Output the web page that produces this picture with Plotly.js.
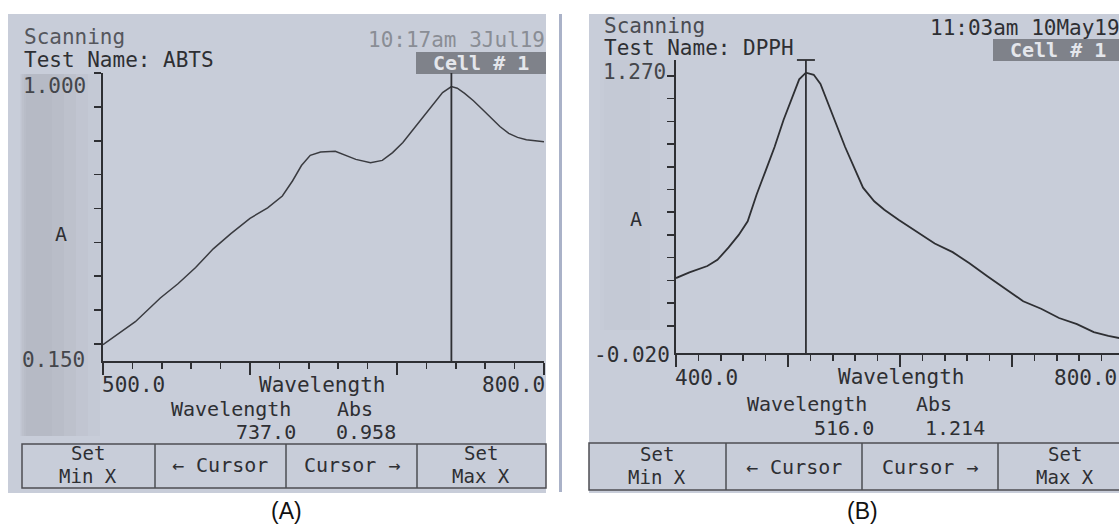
<!DOCTYPE html>
<html>
<head>
<meta charset="utf-8">
<script src="https://cdn.plot.ly/plotly-3.0.1.min.js"></script>
<style>
  html, body { margin: 0; padding: 0; background: #ffffff; overflow: hidden; }
  #chart { width: 1125px; height: 528px; }
</style>
</head>
<body>
<div id="chart"></div>
<script>
// ---------------- data ----------------
// Panel A : ABTS scan
const abtsWavelength = [500, 522, 539, 551, 563, 575, 587, 600, 612, 622, 629, 635, 641, 648, 658, 665, 672, 682, 690, 697, 704, 711, 718, 725, 731, 737, 741, 746, 752, 758, 764, 770, 776, 782, 788, 794, 800];
const abtsAbs        = [0.198, 0.266, 0.336, 0.378, 0.426, 0.481, 0.526, 0.571, 0.602, 0.637, 0.682, 0.727, 0.757, 0.767, 0.769, 0.757, 0.745, 0.735, 0.742, 0.765, 0.795, 0.833, 0.872, 0.912, 0.942, 0.960, 0.955, 0.940, 0.918, 0.893, 0.866, 0.842, 0.822, 0.810, 0.803, 0.800, 0.797];
const abtsRange = [0.150, 1.000];
const abtsWlRange = [500, 800];
const abtsCursorWl = 737.0;
const abtsCursorAbs = 0.958;
const abtsYTicks = [0.2, 0.3, 0.4, 0.5, 0.6, 0.7, 0.8, 0.9, 1.0];

// Panel B : DPPH scan
const dpphWavelength = [400, 412, 428, 437, 447, 456, 464, 472, 480, 488, 496, 504, 510, 516, 523, 529, 537, 545, 551, 559, 567, 577, 586, 599, 615, 631, 647, 662, 678, 694, 710, 726, 742, 758, 773, 786, 800];
const dpphAbs        = [0.310, 0.335, 0.363, 0.390, 0.445, 0.500, 0.560, 0.678, 0.782, 0.887, 1.006, 1.110, 1.185, 1.214, 1.205, 1.165, 1.066, 0.961, 0.887, 0.797, 0.708, 0.648, 0.611, 0.566, 0.514, 0.462, 0.424, 0.375, 0.318, 0.262, 0.208, 0.175, 0.134, 0.107, 0.072, 0.055, 0.042];
const dpphRange = [-0.020, 1.270];
const dpphWlRange = [400, 800];
const dpphCursorWl = 516.0;
const dpphCursorAbs = 1.214;
const dpphYTicks = [0.1, 0.2, 0.3, 0.4, 0.5, 0.6, 0.7, 0.8, 0.9, 1.0, 1.1, 1.2];

// text
const panelLabels = ['(A)', '(B)'];
const testNames = ['ABTS', 'DPPH'];
const timeStamps = ['10:17am 3Jul19', '11:03am 10May19'];
const cellLabel = 'Cell # 1';

// ---------------- layout helpers ----------------
const W = 1125, H = 528;
const px = x => x / W;
const py = y => 1 - y / H;
const MONO = 'DejaVu Sans Mono, Liberation Mono, monospace';
const INK = '#2e2f33';
const SCREEN = '#c8cdd9';

const annotations = [];
function txt(text, x, y, xanchor, opt) {
  opt = opt || {};
  annotations.push({
    text: text, xref: 'paper', yref: 'paper', x: px(x), y: py(y),
    xanchor: xanchor || 'left', yanchor: 'middle', showarrow: false, borderpad: 0,
    font: { family: opt.family || MONO, size: opt.size || 21, color: opt.color || INK,
            weight: opt.weight || 'normal' }
  });
}

const shapes = [];
function rect(x0, y0, x1, y1, fill, line, lw, layer) {
  shapes.push({ type: 'rect', xref: 'paper', yref: 'paper', x0: px(x0), x1: px(x1), y0: py(y1), y1: py(y0),
    fillcolor: fill || 'rgba(0,0,0,0)', line: { color: line || 'rgba(0,0,0,0)', width: lw || 0 }, layer: layer || 'below' });
}
function vline(x, y0, y1, color, w) {
  shapes.push({ type: 'line', xref: 'paper', yref: 'paper', x0: px(x), x1: px(x), y0: py(y0), y1: py(y1),
    line: { color: color || INK, width: w || 1.5 }, layer: 'above' });
}

// screens
rect(8, 14, 546, 493, SCREEN);
// soft darker strip on the left of screen A
[[20, 100, 0.035], [21, 88, 0.035], [22, 76, 0.04], [24, 64, 0.04], [26, 52, 0.03]].forEach(s =>
  rect(s[0], 74, s[1], 436, 'rgba(100,102,112,' + s[2] + ')'));
rect(589, 14, 1130, 493, SCREEN);
[[600, 676, 0.015], [604, 650, 0.015]].forEach(s =>
  rect(s[0], 60, s[1], 330, 'rgba(100,102,112,' + s[2] + ')'));
rect(559, 14, 562, 492, '#aab2c8');

// cell boxes
rect(416, 52, 546, 74, '#7f828a');
rect(993, 39, 1130, 61, '#7f828a');

// buttons
rect(22, 444, 546, 488, null, '#4d4e53', 1.5, 'above');
[155, 286, 417].forEach(x => vline(x, 444, 488, '#4d4e53', 1.5));
rect(589, 443, 1132, 490, null, '#4d4e53', 1.5, 'above');
[726, 862, 998].forEach(x => vline(x, 443, 490, '#4d4e53', 1.5));

// cursors (from data)
shapes.push({ type: 'line', xref: 'x', yref: 'y domain', x0: abtsCursorWl, x1: abtsCursorWl, y0: 0, y1: 1,
  line: { color: INK, width: 1.8 }, layer: 'above' });
shapes.push({ type: 'line', xref: 'x2', yref: 'y2 domain', x0: dpphCursorWl, x1: dpphCursorWl, y0: 0, y1: 1,
  line: { color: INK, width: 1.8 }, layer: 'above' });
shapes.push({ type: 'line', xref: 'x2', yref: 'y2 domain', xsizemode: 'pixel', xanchor: dpphCursorWl,
  x0: -9, x1: 9, y0: 1, y1: 1, line: { color: INK, width: 1.8 }, layer: 'above' });

const SMALL = 19;

// ---------------- texts panel A ----------------
txt('Scanning', 23, 37, 'left', { color: '#55575d' });
txt('Test Name: ' + testNames[0], 23, 60, 'left');
txt(abtsRange[1].toFixed(3), 22, 86, 'left', { color: '#44464b' });
txt(abtsRange[0].toFixed(3), 21, 360, 'left', { color: '#44464b' });
txt(timeStamps[0], 367, 40, 'left', { color: '#8a8d95' });
txt(cellLabel, 481, 63, 'center', { color: '#e4e6eb', weight: 'bold', size: 20 });
txt('A', 61, 234, 'center', { size: 20 });
txt(abtsWlRange[0].toFixed(1), 101, 385, 'left');
txt('Wavelength', 322, 385, 'center');
txt(abtsWlRange[1].toFixed(1), 546, 385, 'right');
txt('Wavelength', 231, 409, 'center', { size: SMALL + 1 });
txt('Abs', 336, 409, 'left', { size: SMALL + 1 });
txt(abtsCursorWl.toFixed(1), 297, 432, 'right', { size: SMALL + 1 });
txt(abtsCursorAbs.toFixed(3), 335, 432, 'left', { size: SMALL + 1 });
txt('Set', 88, 453, 'center', { size: SMALL });
txt('Min X', 88, 476, 'center', { size: SMALL });
txt('\u2190 Cursor', 220, 465, 'center', { size: SMALL + 1 });
txt('Cursor \u2192', 352, 465, 'center', { size: SMALL + 1 });
txt('Set', 481, 453, 'center', { size: SMALL });
txt('Max X', 481, 476, 'center', { size: SMALL });
txt(panelLabels[0], 286, 511, 'center', { family: 'Liberation Sans, Arial, sans-serif', size: 23, color: '#111' });

// ---------------- texts panel B ----------------
txt('Scanning', 603, 26, 'left', { color: '#4a4c52' });
txt('Test Name: ' + testNames[1], 603, 48, 'left');
txt(dpphRange[1].toFixed(3), 602, 72, 'left', { color: '#44464b' });
txt(dpphRange[0].toFixed(3), 671, 355, 'right');
txt(timeStamps[1], 929, 28, 'left');
txt(cellLabel, 1058, 50, 'center', { color: '#e4e6eb', weight: 'bold', size: 20 });
txt('A', 636, 219, 'center', { size: 20 });
txt(dpphWlRange[0].toFixed(1), 674, 378, 'left');
txt('Wavelength', 901, 377, 'center');
txt(dpphWlRange[1].toFixed(1), 1118, 378, 'right');
txt('Wavelength', 807, 404, 'center', { size: SMALL + 1 });
txt('Abs', 915, 404, 'left', { size: SMALL + 1 });
txt(dpphCursorWl.toFixed(1), 875, 428, 'right', { size: SMALL + 1 });
txt(dpphCursorAbs.toFixed(3), 924, 428, 'left', { size: SMALL + 1 });
txt('Set', 657, 454, 'center', { size: SMALL });
txt('Min X', 657, 477, 'center', { size: SMALL });
txt('\u2190 Cursor', 794, 467, 'center', { size: SMALL + 1 });
txt('Cursor \u2192', 930, 467, 'center', { size: SMALL + 1 });
txt('Set', 1065, 454, 'center', { size: SMALL });
txt('Max X', 1065, 477, 'center', { size: SMALL });
txt(panelLabels[1], 862, 511, 'center', { family: 'Liberation Sans, Arial, sans-serif', size: 23, color: '#111' });

// ---------------- traces ----------------
const traces = [
  { type: 'scatter', mode: 'lines', x: abtsWavelength, y: abtsAbs, xaxis: 'x', yaxis: 'y',
    line: { color: '#3a3b40', width: 1.5 }, hoverinfo: 'skip' },
  { type: 'scatter', mode: 'lines', x: dpphWavelength, y: dpphAbs, xaxis: 'x2', yaxis: 'y2',
    line: { color: '#2e2f33', width: 1.8 }, hoverinfo: 'skip' }
];

function xAx(domain, range, anchor) {
  return { domain: domain, range: range, anchor: anchor, showline: true, linecolor: INK, linewidth: 2,
    showgrid: false, zeroline: false, showticklabels: false,
    ticks: 'outside', tickmode: 'linear', tick0: 0, dtick: 100, ticklen: 12, tickwidth: 2, tickcolor: INK,
    minor: { ticks: 'outside', dtick: 20, tick0: 0, ticklen: 6, tickwidth: 1.6, tickcolor: INK, showgrid: false },
    fixedrange: true };
}
function yAx(domain, range, anchor, tickvals) {
  return { domain: domain, range: range, anchor: anchor, showline: true, linecolor: INK, linewidth: 2,
    showgrid: false, zeroline: false, showticklabels: false,
    ticks: 'outside', tickmode: 'array', tickvals: tickvals, ticklen: 7, tickwidth: 1.6, tickcolor: INK,
    fixedrange: true };
}

const layout = {
  width: W, height: H,
  margin: { l: 0, r: 0, t: 0, b: 0, pad: 0 },
  paper_bgcolor: '#ffffff', plot_bgcolor: 'rgba(0,0,0,0)',
  showlegend: false,
  font: { family: MONO, color: INK },
  xaxis: xAx([px(103), px(544)], abtsWlRange, 'y'),
  yaxis: yAx([py(361), py(73)], abtsRange, 'x', abtsYTicks),
  xaxis2: xAx([px(676), px(1124)], dpphWlRange, 'y2'),
  yaxis2: yAx([py(353), py(60)], dpphRange, 'x2', dpphYTicks),
  shapes: shapes,
  annotations: annotations
};

Plotly.newPlot('chart', traces, layout, { displayModeBar: false, staticPlot: true });
</script>
</body>
</html>
